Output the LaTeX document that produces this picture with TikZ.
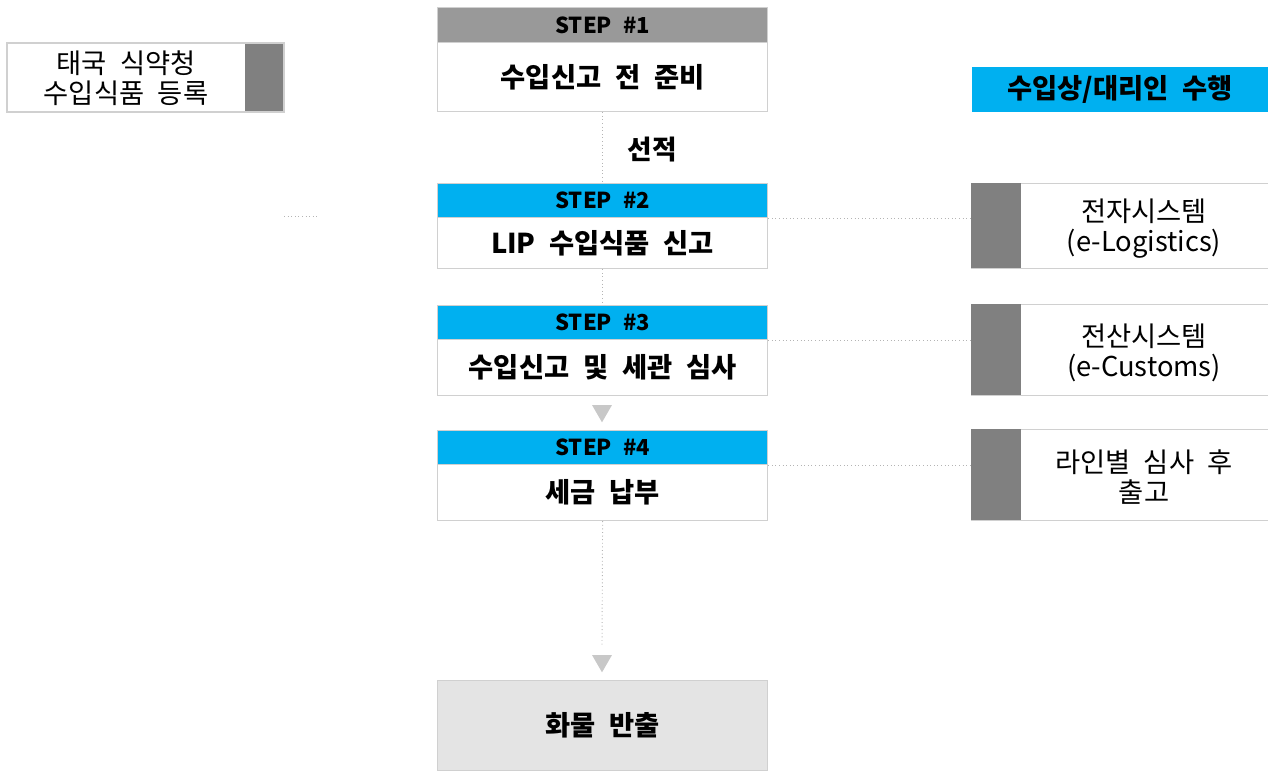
\documentclass[tikz,border=0pt]{standalone}
\usepackage{fontspec}
\newfontfamily\kr[WordSpace=2.2]{Noto Sans CJK KR}
\usetikzlibrary{shapes.geometric}
\definecolor{cyanh}{HTML}{00B0F0}
\definecolor{grayh}{HTML}{999999}
\definecolor{barg}{HTML}{808080}
\definecolor{bordg}{HTML}{D0D0D0}
\definecolor{finalg}{HTML}{E4E4E4}
\definecolor{trig}{HTML}{C8C8C8}
\definecolor{dotg}{HTML}{B4B4B4}
\begin{document}
\begin{tikzpicture}[x=0.75pt,y=-0.75pt,
  box/.style={draw=bordg, line width=0.9pt, anchor=north west, inner sep=0pt, align=center},
  stepw/.style={box, minimum width=247.5pt},
  hdr/.style={stepw, fill=cyanh, minimum height=25.5pt, font=\kr\bfseries\fontsize{16.5}{19}\selectfont},
  bodyb/.style={stepw, fill=white, font=\kr\bfseries\fontsize{20.5}{24}\selectfont},
  rbox/.style={box, fill=white, minimum width=222.75pt},
  bar/.style={anchor=north west, fill=barg, inner sep=0pt, minimum width=37.5pt},
  rtext/.style={align=center, font=\kr\fontsize{20.5}{22.5}\selectfont},
  tri/.style={regular polygon, regular polygon sides=3, shape border rotate=180, fill=trig, inner sep=0pt, minimum size=17.3pt},
  dotl/.style={draw=dotg, dotted, line width=0.7pt}
]
\useasboundingbox (0,0) rectangle (1268,771);

% left box
\node[box, minimum width=207pt, minimum height=51pt] (lbox) at (7,43) {};
\node[anchor=north west, fill=barg, inner sep=0pt, minimum width=28.5pt, minimum height=51pt] (lbar) at (245,43) {};
\draw[draw=bordg, line width=0.9pt] (lbox.north west) rectangle (lbox.south east);
\node[rtext] (ltext) at (126,78) {태국 식약청\\수입식품 등록};
\coordinate (lda) at (284,216);
\coordinate (ldb) at (318,216);
\draw[dotl] (lda) -- (ldb);

% steps
\node[hdr, fill=grayh, minimum height=26.25pt] (s1h) at (437,7) {STEP \#1};
\node[bodyb, minimum height=51.75pt] (s1b) at (437,42) {수입신고 전 준비};
\node[font=\kr\bfseries\fontsize{20}{22}\selectfont] (ship) at (652,150) {선적};

\node[hdr] (s2h) at (437,183) {STEP \#2};
\node[bodyb, minimum height=38.25pt] (s2b) at (437,217) {LIP 수입식품 신고};

\node[hdr] (s3h) at (437,305) {STEP \#3};
\node[bodyb, minimum height=42pt] (s3b) at (437,339) {수입신고 및 세관 심사};

\node[tri] (t1) at (602,410.8) {};

\node[hdr] (s4h) at (437,430) {STEP \#4};
\node[bodyb, minimum height=42pt] (s4b) at (437,464) {세금 납부};

\node[tri] (t2) at (602,660.8) {};
\coordinate (c4) at (602,645);

\node[bodyb, fill=finalg, minimum height=67.5pt] (fin) at (437,680) {화물 반출};

% right side
\node[box, draw=none, fill=cyanh, minimum width=222.75pt, minimum height=33.75pt,
  font=\kr\bfseries\fontsize{20.5}{22}\selectfont] (role) at (971,66) {수입상/대리인 수행};

\node[rbox, minimum height=63.75pt] (r1) at (971,183) {};
\node[bar, minimum height=63.75pt] (r1bar) at (971,183) {};
\node[rtext] (r1t) at (1144,229) {전자시스템\\(e-Logistics)};

\node[rbox, minimum height=68.25pt] (r2) at (971,304) {};
\node[bar, minimum height=68.25pt] (r2bar) at (971,304) {};
\node[rtext] (r2t) at (1144,353) {전산시스템\\(e-Customs)};

\node[rbox, minimum height=68.25pt] (r3) at (971,429) {};
\node[bar, minimum height=68.25pt] (r3bar) at (971,429) {};
\node[rtext] (r3t) at (1144,477) {라인별 심사 후\\출고};

% connectors
\draw[dotl] (s1b.south) -- (s2h.north);
\draw[dotl] (s2b.south) -- (s3h.north);
\draw[dotl] (s4b.south) -- (c4);
\draw[dotl] (s2h.south east) -- (s2h.south east -| r1.west);
\draw[dotl] (s3h.south east) -- (s3h.south east -| r2.west);
\draw[dotl] (s4h.south east) -- (s4h.south east -| r3.west);
\end{tikzpicture}
\end{document}
